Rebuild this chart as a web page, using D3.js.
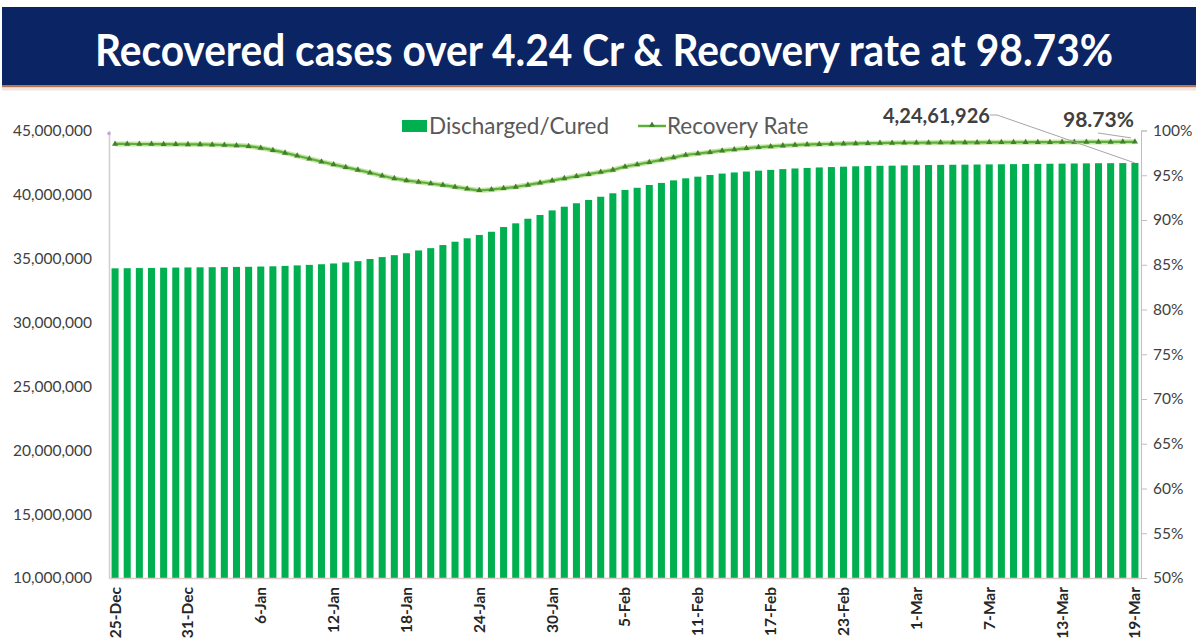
<!DOCTYPE html>
<html>
<head>
<meta charset="utf-8">
<script src="https://cdn.jsdelivr.net/npm/d3@7"></script>
<style>
html,body{margin:0;padding:0;background:#fff;}
svg{display:block;}
</style>
</head>
<body>
<svg id="chart" width="1196" height="643"></svg>
<script>
const title = "Recovered cases over 4.24 Cr & Recovery rate at 98.73%";
const days = d3.timeDay.range(new Date(2021, 11, 25), new Date(2022, 2, 20));
const categories = days.map(d3.timeFormat("%-d-%b"));
const tickLabels = ["25-Dec","31-Dec","6-Jan","12-Jan","18-Jan","24-Jan","30-Jan","5-Feb","11-Feb","17-Feb","23-Feb","1-Mar","7-Mar","13-Mar","19-Mar"];
const leftTicks = [10000000,15000000,20000000,25000000,30000000,35000000,40000000,45000000];
const rightTicks = [0.50,0.55,0.60,0.65,0.70,0.75,0.80,0.85,0.90,0.95,1.00];
const discharged = [
34220000,34230000,34240000,34250000,34270000,34280000,34290000,34300000,34310000,34320000,
34330000,34340000,34360000,34380000,34410000,34450000,34490000,34540000,34600000,34680000,
34780000,34950000,35100000,35250000,35400000,35620000,35800000,36040000,36300000,36570000,
36830000,37080000,37450000,37740000,38100000,38390000,38750000,39040000,39310000,39570000,
39820000,40090000,40350000,40520000,40740000,40900000,41100000,41260000,41390000,41520000,
41630000,41720000,41790000,41860000,41920000,41980000,42030000,42070000,42110000,42140000,
42170000,42200000,42220000,42240000,42250000,42270000,42280000,42300000,42310000,42320000,
42330000,42340000,42350000,42360000,42370000,42380000,42390000,42400000,42410000,42420000,
42430000,42440000,42445000,42450000,42461926];
const recoveryRate = [
98.50,98.50,98.49,98.48,98.47,98.46,98.45,98.45,98.42,98.38,
98.33,98.25,98.05,97.80,97.50,97.18,96.85,96.52,96.20,95.90,
95.60,95.28,94.95,94.65,94.42,94.25,94.08,93.90,93.70,93.50,
93.32,93.40,93.55,93.70,93.92,94.15,94.40,94.65,94.88,95.12,
95.36,95.60,95.96,96.20,96.45,96.72,96.98,97.25,97.42,97.58,
97.75,97.88,98.01,98.13,98.22,98.31,98.39,98.43,98.47,98.50,
98.53,98.56,98.58,98.60,98.61,98.62,98.63,98.64,98.65,98.66,
98.67,98.67,98.68,98.68,98.69,98.69,98.70,98.70,98.71,98.71,
98.72,98.72,98.72,98.73,98.73];
const seriesNames = ["Discharged/Cured","Recovery Rate"];
const lastValueLabel = "4,24,61,926";
const lastRateLabel = "98.73%";

const svg = d3.select("#chart");
const W = 1196, H = 643;
const plot = {left:109, right:1141, top:130.5, bottom:578};

// Banner
svg.append("rect").attr("x",2).attr("y",7).attr("width",W-2).attr("height",78).attr("fill","#0b2463");
svg.append("rect").attr("x",2).attr("y",85).attr("width",W-2).attr("height",2.5).attr("fill","#b27652");
svg.append("rect").attr("x",2).attr("y",87.5).attr("width",W-2).attr("height",3).attr("fill","#f3e4dc");
svg.append("text").attr("x",604).attr("y",66).attr("text-anchor","middle")
  .attr("fill","#fff").style("font-family","Lato, 'Open Sans', sans-serif").style("font-size","43px").style("font-weight","700")
  .attr("textLength",1018).attr("lengthAdjust","spacingAndGlyphs").text(title);

const x = d3.scaleBand().domain(categories).range([plot.left, plot.right]).paddingInner(0.42).paddingOuter(0.21);
const yL = d3.scaleLinear().domain([10000000,45000000]).range([plot.bottom, plot.top]);
const yR = d3.scaleLinear().domain([0.5,1.0]).range([plot.bottom, plot.top]);

// Bars
svg.append("g").selectAll("rect").data(discharged).join("rect")
  .attr("x",(d,i)=>x(categories[i])).attr("width",x.bandwidth())
  .attr("y",d=>yL(d)).attr("height",d=>plot.bottom-yL(d)).attr("fill","#00b050");

// Left axis
const gL = svg.append("g").attr("transform",`translate(${plot.left},0)`)
  .call(d3.axisLeft(yL).tickValues(leftTicks).tickFormat(d3.format(",")).tickSize(0).tickPadding(17));
gL.select(".domain").attr("stroke","#cfcfcf").attr("stroke-width",1.5);
gL.selectAll("text").attr("fill","#404040").style("font-family","Lato, sans-serif").style("font-size","15.5px");
svg.append("circle").attr("cx",plot.left).attr("cy",plot.top+3).attr("r",1.8).attr("fill","#c9a3d6");

// Right axis
const gR = svg.append("g").attr("transform",`translate(${plot.right},0)`)
  .call(d3.axisRight(yR).tickValues(rightTicks).tickFormat(d3.format(".0%")).tickSize(6).tickPadding(6));
gR.select(".domain").attr("stroke","#bfbfbf");
gR.selectAll("line").attr("stroke","#bfbfbf");
gR.selectAll("text").attr("fill","#404040").style("font-family","Lato, sans-serif").style("font-size","15.5px");

// Bottom axis
const gB = svg.append("g").attr("transform",`translate(0,${plot.bottom})`)
  .call(d3.axisBottom(x).tickValues(tickLabels).tickSize(0).tickPadding(0));
gB.select(".domain").attr("stroke","#dccaca").attr("stroke-width",1.5);
gB.selectAll("text").attr("transform","rotate(-90)").attr("text-anchor","end")
  .attr("x",-9).attr("y",0).attr("dy","0.35em")
  .attr("fill","#262626").style("font-family","Lato, sans-serif").style("font-size","15.5px").style("font-weight","700");

// Recovery rate line
const lineGen = d3.line().x((d,i)=>x(categories[i])+x.bandwidth()/2).y(d=>yR(d/100)).curve(d3.curveMonotoneX);
svg.append("path").datum(recoveryRate).attr("d",lineGen).attr("fill","none").attr("stroke","#c9e6a6").attr("stroke-width",5);
svg.append("path").datum(recoveryRate).attr("d",lineGen).attr("fill","none").attr("stroke","#5daf3c").attr("stroke-width",2.2);
const tri = d3.symbol().type(d3.symbolTriangle).size(16);
svg.append("g").selectAll("path").data(recoveryRate).join("path")
  .attr("transform",(d,i)=>`translate(${x(categories[i])+x.bandwidth()/2},${yR(d/100)})`)
  .attr("d",tri).attr("fill","#3f7f2d");

// Legend
svg.append("rect").attr("x",402).attr("y",120).attr("width",25).attr("height",12).attr("fill","#00b050");
svg.append("text").attr("x",429).attr("y",134).text(seriesNames[0])
  .attr("fill","#595959").style("font-family","Lato, sans-serif").style("font-size","22.5px");
svg.append("line").attr("x1",638).attr("x2",666).attr("y1",126).attr("y2",126).attr("stroke","#5daf3c").attr("stroke-width",2.5);
svg.append("path").attr("transform","translate(652,125)").attr("d",tri).attr("fill","#3f7f2d");
svg.append("text").attr("x",667).attr("y",134).text(seriesNames[1])
  .attr("fill","#595959").style("font-family","Lato, sans-serif").style("font-size","22.5px");

// Annotations
const lastI = discharged.length-1;
const lx = x(categories[lastI])+x.bandwidth()/2;
svg.append("polyline").attr("points",`990,115 997,115 ${lx},${yL(discharged[lastI])}`)
  .attr("fill","none").attr("stroke","#a6a6a6").attr("stroke-width",1);
svg.append("text").attr("x",883).attr("y",123).text(lastValueLabel)
  .attr("fill","#404040").style("font-family","Lato, sans-serif").style("font-size","20px").style("font-weight","700");
svg.append("line").attr("x1",1098).attr("y1",133).attr("x2",lx-4).attr("y2",yR(recoveryRate[lastI]/100)-4)
  .attr("stroke","#a6a6a6").attr("stroke-width",1);
svg.append("text").attr("x",1063).attr("y",127).text(lastRateLabel)
  .attr("fill","#404040").style("font-family","Lato, sans-serif").style("font-size","21px").style("font-weight","700");
</script>
</body>
</html>
